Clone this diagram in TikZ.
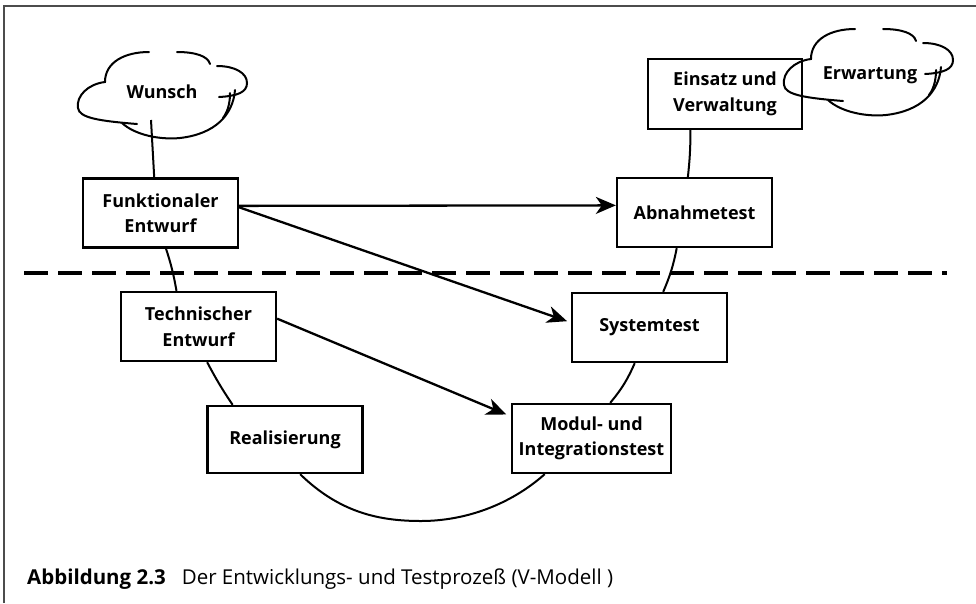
\documentclass[tikz,border=0pt]{standalone}
\usepackage{fontspec}
\setmainfont{Open Sans}
\usetikzlibrary{arrows.meta,calc}
\newcommand\cloudstrokes{%
  \draw[cloudline] (149,52) .. controls (125,52) and (105,62) .. (105,82)
     .. controls (88,84) and (76,96) .. (78,108)
     .. controls (79,118) and (100,121) .. (137,124);
  \draw[cloudline] (177,52) .. controls (195,52) and (208,56) .. (210,64);
  \draw[cloudline] (217,66) .. controls (235,66) and (247,73) .. (247,83)
     .. controls (247,92) and (238,96) .. (219,97);
  \draw[cloudline] (122,123) .. controls (135,135) and (160,140) .. (180,138)
     .. controls (215,134) and (233,115) .. (235,90);
  \draw[cloudline] (223,118) .. controls (229,110) and (230,100) .. (230,93);
}
\begin{document}
\begin{tikzpicture}[x=1pt,y=-1pt,
  box/.style={draw, line width=2.3pt, minimum width=155pt, minimum height=69pt,
    align=center, inner sep=2pt, font=\fontsize{18}{25.5}\selectfont\bfseries},
  cloudtext/.style={inner sep=1pt, font=\fontsize{18}{25.5}\selectfont\bfseries},
  cloudline/.style={line width=2pt, line cap=round},
  vline/.style={line width=2pt},
  arr/.style={line width=2.3pt, -{Stealth[length=20pt,width=17pt,inset=6pt]}},
  frame/.style={draw=black!70, line width=1.5pt}]
\useasboundingbox (0,0) rectangle (976,603);
\draw[frame] (4,603) -- (4,6) -- (976,6);

% boxes
\node[box] (funk) at (160.5,213) {Funktionaler\\Entwurf};
\node[box] (tech) at (198.5,326.5) {Technischer\\Entwurf};
\node[box, minimum height=67pt] (real) at (285,439.5) {Realisierung};
\node[box, minimum width=159pt] (modul) at (591.5,438.5) {Modul- und\\Integrationstest};
\node[box] (sys) at (649.5,327.5) {Systemtest};
\node[box] (abn) at (694.5,212.5) {Abnahmetest};
\node[box, minimum width=154pt, minimum height=70pt] (eins) at (725,94) {Einsatz und\\Verwaltung};

% clouds
\cloudstrokes
\begin{scope}[shift={(706,-23)}]
\cloudstrokes
\end{scope}
\node[cloudtext] (wunsch) at (162,92) {Wunsch};
\node[cloudtext] (erw) at (870,75) {Erwartung};
\coordinate (wfoot) at (151,120);

% dashed separator
\coordinate (dl) at (24,273);
\coordinate (dr) at (947,273);
\draw[line width=3.3pt, dash pattern=on 24pt off 10pt] (dl) -- (dr);

% V-curve
\draw[vline] (wfoot) -- ($(funk.north west)!0.46!(funk.north east)$);
\draw[vline] ($(funk.south west)!0.535!(funk.south east)$) to[bend left=4] ($(tech.north west)!0.36!(tech.north east)$);
\draw[vline] ($(tech.south west)!0.555!(tech.south east)$) to[bend right=3] ($(real.north west)!0.167!(real.north east)$);
\draw[vline] ($(real.south west)!0.596!(real.south east)$)
   .. controls (340,513) and (380,521) .. (421,521)
   .. controls (465,521) and (510,505) .. ($(modul.south west)!0.21!(modul.south east)$);
\draw[vline] ($(modul.north west)!0.616!(modul.north east)$) to[bend right=8] ($(sys.south west)!0.406!(sys.south east)$);
\draw[vline] ($(sys.north west)!0.587!(sys.north east)$) to[bend right=6] ($(abn.south west)!0.387!(abn.south east)$);
\draw[vline] ($(abn.north west)!0.458!(abn.north east)$) to[bend right=3] ($(eins.south west)!0.279!(eins.south east)$);

% arrows
\draw[arr] ($(funk.north east)!0.4!(funk.south east)$) -- ($(abn.north west)!0.4!(abn.south west)$);
\draw[arr, shorten >=4pt] ($(funk.north east)!0.42!(funk.south east)$) -- ($(sys.north west)!0.43!(sys.south west)$);
\draw[arr, shorten >=5pt] ($(tech.north east)!0.39!(tech.south east)$) -- ($(modul.north west)!0.19!(modul.south west)$);

% caption
\node[anchor=base west, inner sep=0pt] (cap) at (27,584)
  {{\fontsize{20.5}{24}\selectfont\bfseries Abbildung 2.3}\hspace{16pt}{\fontsize{20.5}{24}\selectfont Der Entwicklungs- und Testprozeß (V-Modell )}};
\end{tikzpicture}
\end{document}
